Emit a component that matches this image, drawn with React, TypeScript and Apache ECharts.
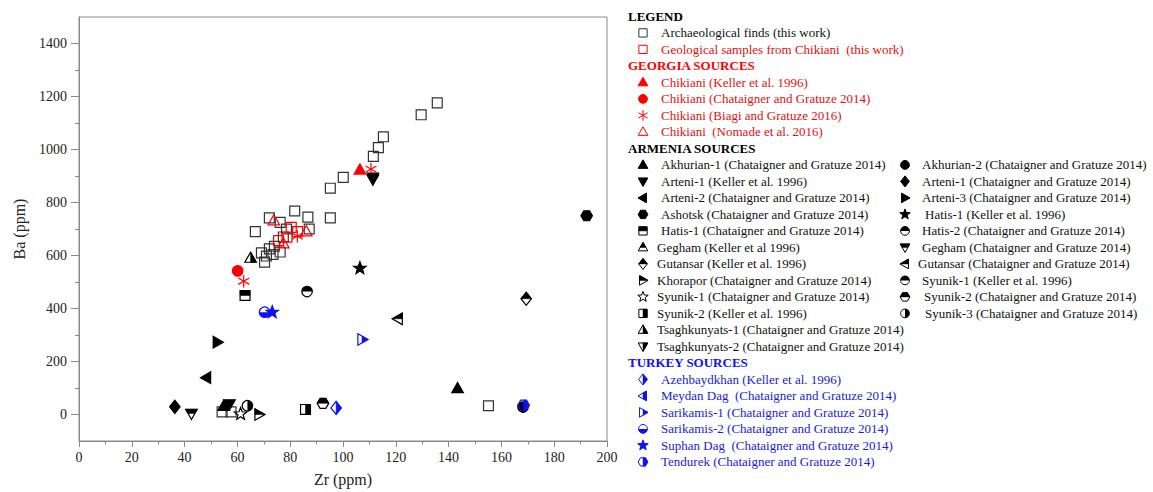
import React, { useEffect, useRef } from 'react';
import * as echarts from 'echarts';

// ---------- tick labels ----------
const yMajorTicks = [0, 200, 400, 600, 800, 1000, 1200, 1400];
const yMinorTicks = [100, 300, 500, 700, 900, 1100, 1300];

// ---------- data (Zr ppm, Ba ppm) ----------
const archaeoFinds = [
  [135.7, 1176], [129.6, 1131], [115.3, 1048], [113.4, 1007], [111.5, 974],
  [100.1, 895], [95.2, 854], [95.2, 742], [86.7, 745], [87.2, 700],
  [81.7, 768], [72.1, 742], [66.8, 690], [76.2, 725], [78.6, 700],
  [77.4, 670], [74, 635], [72.1, 625], [69.1, 610], [70.3, 575],
  [73.5, 604], [76.2, 613], [71, 598], [155.1, 33], [54.2, 10], [57.6, 10],
];
const geoChikiani = [[75.6, 656], [78.8, 669], [80.4, 706], [82.8, 690]];
const chikianiKeller = [[106.4, 923]];
const chikianiChataigner = [[60.1, 542]];
const chikianiBiagi = [[62.4, 503], [82.7, 673], [110.6, 926]];
const chikianiNomade = [[73.8, 731], [77.4, 644], [86.1, 690]];

const akhurian1 = [[143.4, 98], [54.8, 31]];
const akhurian2 = [[168.2, 28]];
const arteni1Keller = [[111.3, 895], [57, 40]];
const arteni1Chat = [[36.3, 29]];
const arteni2 = [[48.3, 139]];
const arteni3 = [[52.4, 273]];
const ashotsk = [[192.3, 750]];
const hatis1Keller = [[106.4, 552]];
const hatis1Chat = [[62.9, 449]];
const hatis2 = [[86.4, 464]];
const geghamKeller: number[][] = [];
const geghamChat = [[42.6, 4]];
const gutansarKeller = [[169.4, 437]];
const gutansarChat = [[120.9, 361]];
const khorapor = [[68.2, 0]];
const syunik1Keller: number[][] = [];
const syunik1Chat = [[61.2, 2]];
const syunik2Chat = [[92.4, 42]];
const syunik2Keller = [[85.8, 19]];
const syunik3 = [[63.8, 33]];
const tsaghk1 = [[65, 590]];
const tsaghk2 = [[111.3, 888]];

const azehbaydkhan = [[97.4, 25]];
const meydanDag: number[][] = [];
const sarikamis1 = [[107.2, 283]];
const sarikamis2 = [[70.3, 386]];
const suphanDag = [[73.2, 386]];
const tendurek = [[168.4, 35]];

const RED = '#ff0000';
const BLUE = '#1010f0';
const BLK = '#000000';
const GREY = '#333333';
const FONT = "'Liberation Serif', 'Times New Roman', serif";

type Src = { name: string; data: number[][]; kind: string; fill: string; color: string; row: number; col: number; tx?: number };

const sources: Src[] = [
  { name: 'Archaeological finds (this work)', data: archaeoFinds, kind: 'square', fill: 'none', color: GREY, row: 1, col: 0 },
  { name: 'Geological samples from Chikiani  (this work)', data: geoChikiani, kind: 'square', fill: 'none', color: RED, row: 2, col: 0 },
  { name: 'Chikiani (Keller et al. 1996)', data: chikianiKeller, kind: 'triUp', fill: 'full', color: RED, row: 4, col: 0 },
  { name: 'Chikiani (Chataigner and Gratuze 2014)', data: chikianiChataigner, kind: 'circle', fill: 'full', color: RED, row: 5, col: 0 },
  { name: 'Chikiani (Biagi and Gratuze 2016)', data: chikianiBiagi, kind: 'asterisk', fill: 'none', color: RED, row: 6, col: 0 },
  { name: 'Chikiani  (Nomade et al. 2016)', data: chikianiNomade, kind: 'triUp', fill: 'none', color: RED, row: 7, col: 0 },

  { name: 'Akhurian-1 (Chataigner and Gratuze 2014)', data: akhurian1, kind: 'triUp', fill: 'full', color: BLK, row: 9, col: 0 },
  { name: 'Akhurian-2 (Chataigner and Gratuze 2014)', data: akhurian2, kind: 'circle', fill: 'full', color: BLK, row: 9, col: 1 },
  { name: 'Arteni-1 (Keller et al. 1996)', data: arteni1Keller, kind: 'triDown', fill: 'full', color: BLK, row: 10, col: 0 },
  { name: 'Arteni-1 (Chataigner and Gratuze 2014)', data: arteni1Chat, kind: 'diamond', fill: 'full', color: BLK, row: 10, col: 1 },
  { name: 'Arteni-2 (Chataigner and Gratuze 2014)', data: arteni2, kind: 'triLeft', fill: 'full', color: BLK, row: 11, col: 0 },
  { name: 'Arteni-3 (Chataigner and Gratuze 2014)', data: arteni3, kind: 'triRight', fill: 'full', color: BLK, row: 11, col: 1 },
  { name: 'Ashotsk (Chataigner and Gratuze 2014)', data: ashotsk, kind: 'hexagon', fill: 'full', color: BLK, row: 12, col: 0 },
  { name: 'Hatis-1 (Keller et al. 1996)', data: hatis1Keller, kind: 'star', fill: 'full', color: BLK, row: 12, col: 1, tx: 925 },
  { name: 'Hatis-1 (Chataigner and Gratuze 2014)', data: hatis1Chat, kind: 'square', fill: 'top', color: BLK, row: 13, col: 0 },
  { name: 'Hatis-2 (Chataigner and Gratuze 2014)', data: hatis2, kind: 'circle', fill: 'top', color: BLK, row: 13, col: 1 },
  { name: 'Gegham (Keller et al 1996)', data: geghamKeller, kind: 'triUp', fill: 'top', color: BLK, row: 14, col: 0, tx: 657 },
  { name: 'Gegham (Chataigner and Gratuze 2014)', data: geghamChat, kind: 'triDown', fill: 'top', color: BLK, row: 14, col: 1 },
  { name: 'Gutansar (Keller et al. 1996)', data: gutansarKeller, kind: 'diamond', fill: 'top', color: BLK, row: 15, col: 0, tx: 657 },
  { name: 'Gutansar (Chataigner and Gratuze 2014)', data: gutansarChat, kind: 'triLeft', fill: 'top', color: BLK, row: 15, col: 1, tx: 918 },
  { name: 'Khorapor (Chataigner and Gratuze 2014)', data: khorapor, kind: 'triRight', fill: 'top', color: BLK, row: 16, col: 0, tx: 657 },
  { name: 'Syunik-1 (Keller et al. 1996)', data: syunik1Keller, kind: 'circle', fill: 'top', color: BLK, row: 16, col: 1 },
  { name: 'Syunik-1 (Chataigner and Gratuze 2014)', data: syunik1Chat, kind: 'star', fill: 'none', color: BLK, row: 17, col: 0, tx: 657 },
  { name: 'Syunik-2 (Chataigner and Gratuze 2014)', data: syunik2Chat, kind: 'hexagon', fill: 'top', color: BLK, row: 17, col: 1, tx: 924 },
  { name: 'Syunik-2 (Keller et al. 1996)', data: syunik2Keller, kind: 'square', fill: 'right', color: BLK, row: 18, col: 0, tx: 657 },
  { name: 'Syunik-3 (Chataigner and Gratuze 2014)', data: syunik3, kind: 'circle', fill: 'right', color: BLK, row: 18, col: 1, tx: 925 },
  { name: 'Tsaghkunyats-1 (Chataigner and Gratuze 2014)', data: tsaghk1, kind: 'triUp', fill: 'right', color: BLK, row: 19, col: 0, tx: 657 },
  { name: 'Tsaghkunyats-2 (Chataigner and Gratuze 2014)', data: tsaghk2, kind: 'triDown', fill: 'right', color: BLK, row: 20, col: 0, tx: 657 },

  { name: 'Azehbaydkhan (Keller et al. 1996)', data: azehbaydkhan, kind: 'diamond', fill: 'right', color: BLUE, row: 22, col: 0 },
  { name: 'Meydan Dag  (Chataigner and Gratuze 2014)', data: meydanDag, kind: 'triLeft', fill: 'right', color: BLUE, row: 23, col: 0 },
  { name: 'Sarikamis-1 (Chataigner and Gratuze 2014)', data: sarikamis1, kind: 'triRight', fill: 'right', color: BLUE, row: 24, col: 0 },
  { name: 'Sarikamis-2 (Chataigner and Gratuze 2014)', data: sarikamis2, kind: 'circle', fill: 'bottom', color: BLUE, row: 25, col: 0 },
  { name: 'Suphan Dag  (Chataigner and Gratuze 2014)', data: suphanDag, kind: 'star', fill: 'full', color: BLUE, row: 26, col: 0 },
  { name: 'Tendurek (Chataigner and Gratuze 2014)', data: tendurek, kind: 'hexagon', fill: 'right', color: BLUE, row: 27, col: 0 },
];

const headers = [
  { text: 'LEGEND', row: 0, color: BLK },
  { text: 'GEORGIA SOURCES', row: 3, color: RED },
  { text: 'ARMENIA SOURCES', row: 8, color: BLK },
  { text: 'TURKEY SOURCES', row: 21, color: BLUE },
];

type Pt = [number, number];

function basePoly(kind: string, s: number): Pt[] {
  switch (kind) {
    case 'square': { const h = s * 0.9; return [[-h, -h], [h, -h], [h, h], [-h, h]]; }
    case 'triUp': return [[0, -s * 1.1], [s * 1.05, s * 0.75], [-s * 1.05, s * 0.75]];
    case 'triDown': return [[0, s * 1.1], [s * 1.05, -s * 0.75], [-s * 1.05, -s * 0.75]];
    case 'triLeft': return [[-s * 1.1, 0], [s * 0.75, -s * 1.05], [s * 0.75, s * 1.05]];
    case 'triRight': return [[s * 1.1, 0], [-s * 0.75, -s * 1.05], [-s * 0.75, s * 1.05]];
    case 'diamond': return [[0, -s * 1.2], [s * 0.95, 0], [0, s * 1.2], [-s * 0.95, 0]];
    case 'hexagon': {
      const pts: Pt[] = [];
      for (let k = 0; k < 6; k++) { const a = (k * 60) * Math.PI / 180; pts.push([Math.cos(a) * s * 1.05, Math.sin(a) * s * 1.05]); }
      return pts;
    }
    case 'star': {
      const pts: Pt[] = [];
      for (let k = 0; k < 10; k++) {
        const a = (-90 + k * 36) * Math.PI / 180;
        const r = k % 2 === 0 ? s * 1.2 : s * 0.5;
        pts.push([Math.cos(a) * r, Math.sin(a) * r]);
      }
      return pts;
    }
  }
  return [];
}

function clipHalf(pts: Pt[], mode: string): Pt[] {
  const inside = (p: Pt) => mode === 'top' ? p[1] <= 0 : mode === 'bottom' ? p[1] >= 0 : mode === 'left' ? p[0] <= 0 : p[0] >= 0;
  const inter = (a: Pt, b: Pt): Pt => {
    if (mode === 'top' || mode === 'bottom') { const t = a[1] / (a[1] - b[1]); return [a[0] + t * (b[0] - a[0]), 0]; }
    const t = a[0] / (a[0] - b[0]); return [0, a[1] + t * (b[1] - a[1])];
  };
  const out: Pt[] = [];
  for (let i = 0; i < pts.length; i++) {
    const cur = pts[i], prev = pts[(i + pts.length - 1) % pts.length];
    const ci = inside(cur), pi = inside(prev);
    if (ci) { if (!pi) out.push(inter(prev, cur)); out.push(cur); }
    else if (pi) out.push(inter(prev, cur));
  }
  return out;
}

function markerEls(kind: string, fill: string, color: string, s: number, lw: number): any[] {
  if (kind === 'asterisk') {
    const L = s * 1.15;
    return [90, 30, 150].map((deg) => {
      const a = deg * Math.PI / 180;
      return { type: 'line', shape: { x1: -Math.cos(a) * L, y1: -Math.sin(a) * L, x2: Math.cos(a) * L, y2: Math.sin(a) * L }, style: { stroke: color, lineWidth: lw } };
    });
  }
  if (kind === 'circle') {
    const r = s * 0.95;
    if (fill === 'full') return [{ type: 'circle', shape: { cx: 0, cy: 0, r }, style: { fill: color, stroke: color, lineWidth: lw } }];
    const els: any[] = [{ type: 'circle', shape: { cx: 0, cy: 0, r }, style: { fill: 'none', stroke: color, lineWidth: lw } }];
    if (fill !== 'none') {
      const ang: Record<string, number[]> = { top: [Math.PI, 2 * Math.PI], bottom: [0, Math.PI], right: [-Math.PI / 2, Math.PI / 2], left: [Math.PI / 2, 1.5 * Math.PI] };
      const [sa, ea] = ang[fill];
      els.push({ type: 'sector', shape: { cx: 0, cy: 0, r, r0: 0, startAngle: sa, endAngle: ea, clockwise: true }, style: { fill: color } });
    }
    return els;
  }
  const pts = basePoly(kind, s);
  if (fill === 'full') return [{ type: 'polygon', shape: { points: pts }, style: { fill: color, stroke: color, lineWidth: lw } }];
  const els: any[] = [];
  if (fill !== 'none') els.push({ type: 'polygon', shape: { points: clipHalf(pts, fill) }, style: { fill: color, stroke: color, lineWidth: 0.5 } });
  els.push({ type: 'polygon', shape: { points: pts }, style: { fill: 'none', stroke: color, lineWidth: lw } });
  return els;
}

const rowY = (row: number) => 16.4 + 16.5 * row;

export default function App() {
  const ref = useRef<HTMLDivElement>(null);
  useEffect(() => {
    if (!ref.current) return;
    const chart = echarts.init(ref.current, null, { renderer: 'svg' });

    const series: any[] = sources.filter((s) => s.data.length > 0).map((src) => ({
      type: 'custom',
      name: src.name,
      coordinateSystem: 'cartesian2d',
      xAxisIndex: 0,
      yAxisIndex: 0,
      data: src.data,
      encode: { x: 0, y: 1 },
      clip: false,
      renderItem: (params: any, api: any) => {
        const p = api.coord([api.value(0), api.value(1)]);
        return { type: 'group', x: p[0], y: p[1], children: markerEls(src.kind, src.fill, src.color, 5.5, 1.2) };
      },
    }));

    const graphic: any[] = [];
    headers.forEach((h) => {
      graphic.push({ type: 'text', x: 628, y: rowY(h.row), style: { text: h.text, fill: h.color, fontFamily: FONT, fontSize: 13, fontWeight: 'bold', verticalAlign: 'middle' } });
    });
    sources.forEach((src) => {
      const mx = src.col === 0 ? 643 : 905;
      const tx = src.tx ?? (src.col === 0 ? 661 : 922);
      const y = rowY(src.row);
      graphic.push({ type: 'group', x: mx, y, children: markerEls(src.kind, src.fill, src.color, 4.6, 1) });
      graphic.push({ type: 'text', x: tx, y, style: { text: src.name, fill: src.color === RED ? '#e01010' : src.color === BLUE ? '#1a1ad8' : '#111', fontFamily: FONT, fontSize: 13, verticalAlign: 'middle' } });
    });

    chart.setOption({
      animation: false,
      backgroundColor: '#ffffff',
      grid: { left: 79, right: 546, top: 17, bottom: 49, show: true, borderColor: '#8a8a8a', borderWidth: 1 },
      xAxis: {
        type: 'value', min: 0, max: 200, interval: 20,
        axisLine: { show: true, onZero: false, lineStyle: { color: '#8a8a8a', width: 1 } },
        axisTick: { show: true, length: 6, lineStyle: { color: '#8a8a8a' } },
        minorTick: { show: true, splitNumber: 2, length: 3.5, lineStyle: { color: '#8a8a8a' } },
        axisLabel: { fontFamily: FONT, fontSize: 14, color: '#222', margin: 9 },
        splitLine: { show: false },
        name: 'Zr (ppm)', nameLocation: 'middle', nameGap: 30,
        nameTextStyle: { fontFamily: FONT, fontSize: 16, color: '#222' },
      },
      yAxis: [
        {
          type: 'value', min: -100, max: 1500, interval: 100, position: 'left',
          axisLine: { show: true, onZero: false, lineStyle: { color: '#8a8a8a', width: 1 } },
          axisTick: { show: true, length: 8, customValues: yMajorTicks, lineStyle: { color: '#8a8a8a' } },
          axisLabel: { fontFamily: FONT, fontSize: 14, color: '#222', margin: 12, customValues: yMajorTicks, formatter: (v: number) => String(v) },
          splitLine: { show: false },
          name: 'Ba (ppm)', nameLocation: 'middle', nameGap: 52,
          nameTextStyle: { fontFamily: FONT, fontSize: 16, color: '#222' },
        },
        {
          type: 'value', min: -100, max: 1500, interval: 100, position: 'left',
          axisLine: { show: false, onZero: false },
          axisTick: { show: true, length: 4, customValues: yMinorTicks, lineStyle: { color: '#8a8a8a' } },
          axisLabel: { show: false },
          splitLine: { show: false },
        },
      ],
      graphic,
      series,
    });
    return () => chart.dispose();
  }, []);
  return <div ref={ref} style={{ position: 'absolute', left: 0, top: 0, width: 1153, height: 492, background: '#fff' }} />;
}
